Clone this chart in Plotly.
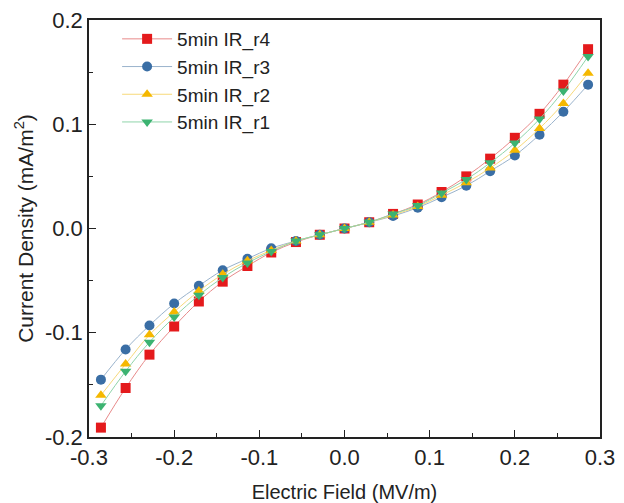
import plotly.graph_objects as go

x_field = [-0.286, -0.257, -0.229, -0.2, -0.171, -0.143, -0.114, -0.086, -0.057, -0.029, 0.0,
           0.029, 0.057, 0.086, 0.114, 0.143, 0.171, 0.2, 0.229, 0.257, 0.286]

r4 = [-0.191, -0.153, -0.121, -0.094, -0.070, -0.051, -0.036, -0.023, -0.013, -0.006, 0.0,
      0.006, 0.014, 0.023, 0.035, 0.050, 0.067, 0.087, 0.110, 0.138, 0.172]
r3 = [-0.145, -0.116, -0.093, -0.072, -0.055, -0.040, -0.029, -0.019, -0.012, -0.006, 0.0,
      0.006, 0.012, 0.020, 0.030, 0.041, 0.055, 0.070, 0.090, 0.112, 0.138]
r2 = [-0.160, -0.130, -0.102, -0.080, -0.060, -0.044, -0.031, -0.021, -0.012, -0.006, 0.0,
      0.006, 0.013, 0.021, 0.032, 0.044, 0.058, 0.075, 0.096, 0.120, 0.149]
r1 = [-0.170, -0.137, -0.109, -0.085, -0.064, -0.047, -0.033, -0.022, -0.012, -0.006, 0.0,
      0.006, 0.014, 0.022, 0.034, 0.047, 0.063, 0.082, 0.105, 0.132, 0.165]

x_tickvals = [-0.3, -0.2, -0.1, 0.0, 0.1, 0.2, 0.3]
x_ticktext = ["-0.3", "-0.2", "-0.1", "0.0", "0.1", "0.2", "0.3"]
y_tickvals = [-0.2, -0.1, 0.0, 0.1, 0.2]
y_ticktext = ["-0.2", "-0.1", "0.0", "0.1", "0.2"]

series_names = ["5min IR_r4", "5min IR_r3", "5min IR_r2", "5min IR_r1"]
marker_colors = ["#e41a1c", "#3a6ea5", "#f5b800", "#3cb371"]
line_colors = ["#e88a8a", "#9ab3cc", "#f7d97a", "#8fd4aa"]
symbols = ["square", "circle", "triangle-up", "triangle-down"]

FONT = "Liberation Sans, Arial"

fig = go.Figure()
for name, ys, mc, lc, sym in zip(series_names, [r4, r3, r2, r1], marker_colors, line_colors, symbols):
    fig.add_trace(go.Scatter(
        x=x_field, y=ys, name=name, mode="lines+markers",
        line=dict(color=lc, width=1, shape="spline"),
        marker=dict(symbol=sym, color=mc, size=10, line=dict(width=0)),
    ))

axis_common = dict(
    showline=True, linecolor="#222", linewidth=1.5, mirror=True,
    ticks="inside", ticklen=7, tickwidth=1.2, tickcolor="#222",
    showgrid=False, zeroline=False, automargin=False,
    tickfont=dict(family=FONT, size=22, color="#222"),
    minor=dict(ticks="inside", ticklen=4, tickwidth=1, tickcolor="#222", dtick=0.05),
)

fig.update_xaxes(range=[-0.3, 0.3], tickvals=x_tickvals, ticktext=x_ticktext,
                 title=dict(text="Electric Field (MV/m)",
                            font=dict(family=FONT, size=20, color="#222"),
                            standoff=20),
                 **axis_common)
fig.update_yaxes(range=[-0.2, 0.2], tickvals=y_tickvals, ticktext=y_ticktext,
                 title=dict(text="Current Density (mA/m<sup>2</sup>)",
                            font=dict(family=FONT, size=21, color="#222"),
                            standoff=6),
                 **axis_common)

fig.update_layout(
    width=624, height=503,
    margin=dict(l=89, r=24, t=20, b=66),
    paper_bgcolor="white", plot_bgcolor="white",
    legend=dict(x=0.055, y=1.0, xanchor="left", yanchor="top",
                font=dict(family=FONT, size=19, color="#222"),
                bgcolor="rgba(0,0,0,0)", tracegroupgap=0, itemwidth=50),
    showlegend=True,
)

fig.write_html("out.html")
